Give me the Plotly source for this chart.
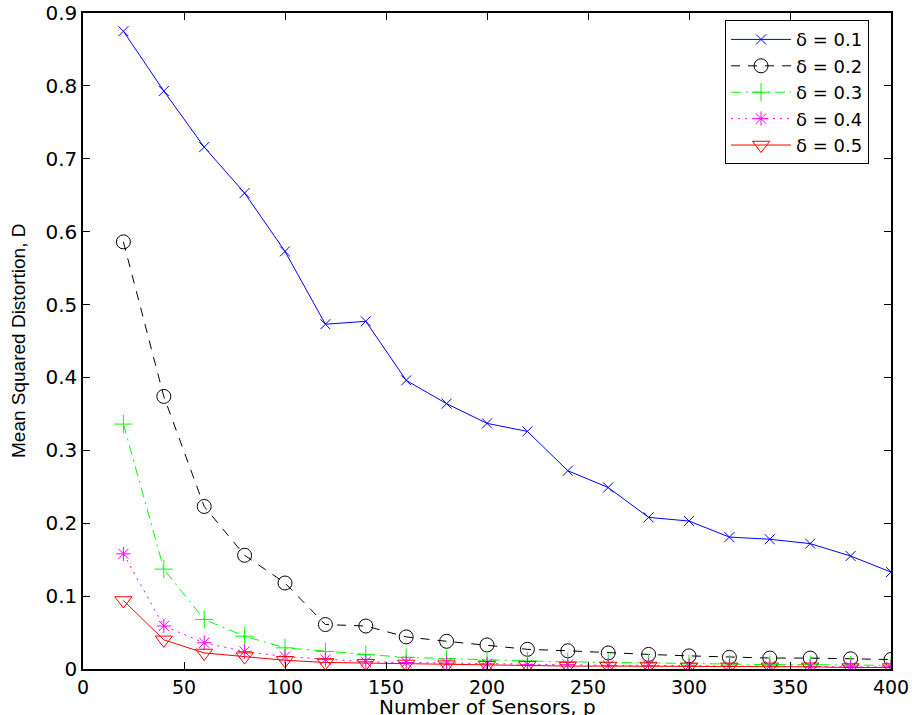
import plotly.graph_objects as go

sensors = [20, 40, 60, 80, 100, 120, 140, 160, 180, 200,
           220, 240, 260, 280, 300, 320, 340, 360, 380, 400]

d01 = [0.875, 0.793, 0.716, 0.653, 0.573, 0.473, 0.477, 0.396, 0.364, 0.337,
       0.326, 0.272, 0.249, 0.208, 0.203, 0.181, 0.178, 0.172, 0.155, 0.133]
d02 = [0.586, 0.374, 0.223, 0.156, 0.118, 0.061, 0.059, 0.044, 0.038, 0.033,
       0.027, 0.025, 0.022, 0.020, 0.018, 0.016, 0.015, 0.015, 0.014, 0.013]
d03 = [0.336, 0.137, 0.068, 0.045, 0.029, 0.024, 0.020, 0.016, 0.014, 0.012,
       0.011, 0.010, 0.009, 0.008, 0.007, 0.007, 0.006, 0.006, 0.005, 0.005]
d04 = [0.158, 0.059, 0.036, 0.024, 0.017, 0.013, 0.010, 0.009, 0.008, 0.007,
       0.006, 0.006, 0.005, 0.005, 0.004, 0.004, 0.004, 0.003, 0.003, 0.003]
d05 = [0.094, 0.040, 0.022, 0.017, 0.012, 0.009, 0.008, 0.007, 0.006, 0.005,
       0.005, 0.004, 0.004, 0.004, 0.003, 0.003, 0.003, 0.003, 0.002, 0.002]

labels = ["δ = 0.1", "δ = 0.2", "δ = 0.3", "δ = 0.4", "δ = 0.5"]
colors = ["#0000ff", "#000000", "#00ff00", "#ff00ff", "#ff0000"]
dashes = ["solid", "9px,8px", "10px,5px,2px,5px", "2px,5px", "solid"]
symbols = ["x-thin-open", "circle-open", "cross-thin-open", "asterisk-open", "triangle-down-open"]
sizes = [10, 14, 13, 12, 15]

x_ticks = [0, 50, 100, 150, 200, 250, 300, 350, 400]
y_ticks = [0, 0.1, 0.2, 0.3, 0.4, 0.5, 0.6, 0.7, 0.8, 0.9]
x_title = "Number of Sensors, p"
y_title = "Mean Squared Distortion, D"

series = [d01, d02, d03, d04, d05]

fig = go.Figure()
for lab, ys, c, d, s, sz in zip(labels, series, colors, dashes, symbols, sizes):
    fig.add_trace(go.Scatter(
        x=sensors, y=ys, name=lab, mode="lines+markers",
        line=dict(color=c, width=1, dash=d),
        marker=dict(symbol=s, size=sz, color=c, line=dict(color=c, width=1)),
    ))

wide = "DejaVu Sans, Verdana, sans-serif"
narrow = "Liberation Sans, Arial, sans-serif"

# plot area: 83..891 px horizontally, 13..669 px vertically
plot_w = 912 - 83 - 21
plot_h = 715 - 13 - 46

fig.update_layout(
    width=912, height=715,
    margin=dict(l=83, r=21, t=13, b=46),
    paper_bgcolor="white", plot_bgcolor="white",
    font=dict(family=wide, size=20, color="black"),
    showlegend=True,
    legend=dict(
        x=0.7946, y=0.989, xanchor="left", yanchor="top",
        bgcolor="white", bordercolor="black", borderwidth=1,
        font=dict(family=wide, size=18, color="black"),
        tracegroupgap=0, itemwidth=60,
    ),
    xaxis=dict(
        range=[0, 400], tickvals=x_ticks, ticktext=[str(v) for v in x_ticks],
        showgrid=False, zeroline=False, showline=True, linecolor="black", linewidth=1.5,
        mirror="allticks", ticks="inside", ticklen=7, tickcolor="black", tickwidth=1,
        automargin=False, tickfont=dict(family=wide, size=19),
    ),
    yaxis=dict(
        range=[0, 0.9], tickvals=y_ticks, ticktext=[("%g" % v) for v in y_ticks],
        showgrid=False, zeroline=False, showline=True, linecolor="black", linewidth=1.5,
        mirror="allticks", ticks="inside", ticklen=7, tickcolor="black", tickwidth=1,
        automargin=False, tickfont=dict(family=wide, size=20),
    ),
    annotations=[
        dict(text=x_title, xref="paper", yref="paper", x=0.5, y=-(707 - 669) / plot_h,
             xanchor="center", yanchor="middle", showarrow=False,
             font=dict(family=wide, size=20, color="black")),
        dict(text=y_title, xref="paper", yref="paper", x=(18 - 83) / plot_w, y=0.5,
             xanchor="center", yanchor="middle", showarrow=False, textangle=-90,
             font=dict(family=narrow, size=19, color="black")),
    ],
)

fig.write_html("out.html")
